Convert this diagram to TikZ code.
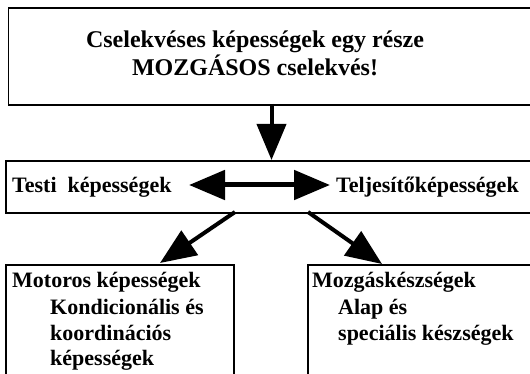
\documentclass[tikz,border=0pt]{standalone}
\usepackage{fontspec}
\setmainfont{Liberation Serif}
\usetikzlibrary{arrows.meta}
\begin{document}
\begin{tikzpicture}[x=1pt,y=-1pt,
  box/.style={draw,line width=1.8pt,anchor=north west,inner sep=0pt},
  txt/.style={inner sep=0pt,font=\fontsize{22}{26}\selectfont\bfseries},
  toptxt/.style={inner sep=0pt,font=\fontsize{24}{28}\selectfont\bfseries},
  bigarrow/.style={line width=4pt,-{Triangle[length=36pt,width=29pt]}},
  dblarrow/.style={line width=5pt,{Triangle[length=36pt,width=29pt]}-{Triangle[length=36pt,width=29pt]}}]
\useasboundingbox (0,0) rectangle (530,374);
\clip (0,0) rectangle (530,374);
% boxes
\node[box,minimum width=540pt,minimum height=96.5pt] (top) at (7.5,7.5) {};
\node[box,minimum width=540pt,minimum height=52pt] (mid) at (5,160) {};
\node[box,minimum width=228pt,minimum height=130pt] (lbox) at (5,264) {};
\node[box,minimum width=240pt,minimum height=130pt] (rbox) at (307,264) {};
% texts
\node[toptxt,anchor=base] (t1) at (255,48) {Cselekvéses képességek egy része};
\node[toptxt,anchor=base] (t2) at (255,76) {MOZGÁSOS cselekvés!};
\node[txt,anchor=base west] (m1) at (12,193) {Testi\ \ képességek};
\node[txt,anchor=base west] (m2) at (336,193) {Teljesítőképességek};
\node[txt,anchor=base west] (l1) at (12,287) {Motoros képességek};
\node[txt,anchor=base west] (l2) at (50,314) {Kondicionális és};
\node[txt,anchor=base west] (l3) at (50,340) {koordinációs};
\node[txt,anchor=base west] (l4) at (50,365) {képességek};
\node[txt,anchor=base west] (r1) at (312,287) {Mozgáskészségek};
\node[txt,anchor=base west] (r2) at (338,314) {Alap és};
\node[txt,anchor=base west] (r3) at (338,340) {speciális készségek};
% connector end points
\coordinate (vA) at (271.5,104);
\coordinate (vB) at (271.5,160);
\coordinate (hA) at (189,185);
\coordinate (hB) at (330,185);
\coordinate (dL0) at (235,212);
\coordinate (dL1) at (160,263);
\coordinate (dR0) at (308,212);
\coordinate (dR1) at (382,264);
% arrows
\draw[bigarrow] (vA) -- (vB);
\draw[dblarrow] (hA) -- (hB);
\draw[bigarrow] (dL0) -- (dL1);
\draw[bigarrow] (dR0) -- (dR1);
\end{tikzpicture}
\end{document}
